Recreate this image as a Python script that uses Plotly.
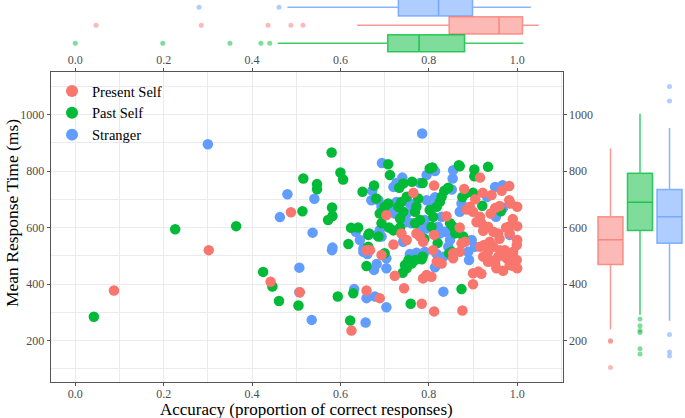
import plotly.graph_objects as go

# ---------------- data (accuracy, mean RT) ----------------
present_self = [
    (0.0875, 377), (0.302, 520), (0.442, 408), (0.508, 371), (0.488, 654),
    (0.765, 723), (0.812, 749), (0.880, 737), (0.916, 777), (0.965, 730),
    (0.982, 747), (0.922, 723), (0.942, 715), (0.982, 697), (0.985, 685),
    (1.0, 674), (0.960, 676), (0.950, 669), (0.893, 674), (0.886, 664),
    (0.900, 656), (0.916, 638), (0.908, 620), (0.919, 615), (0.923, 589),
    (0.934, 603), (0.946, 585), (0.957, 579), (0.983, 605), (1.0, 605),
    (1.0, 556), (0.983, 579), (0.938, 550), (0.925, 538), (0.916, 532),
    (0.946, 532), (0.934, 514), (0.961, 520), (0.972, 520), (0.999, 538),
    (0.991, 514), (0.874, 544), (0.882, 550), (0.870, 514), (0.855, 509),
    (0.812, 574), (0.704, 644), (0.738, 579), (0.750, 556), (0.772, 579),
    (0.780, 568), (0.787, 550), (0.659, 520), (0.667, 520), (0.693, 503),
    (0.855, 491), (0.923, 497), (0.938, 485), (0.957, 497), (0.976, 491),
    (0.991, 497), (0.999, 485), (0.983, 467), (0.953, 456), (0.968, 447),
    (1.0, 456), (0.912, 444), (0.919, 436), (0.900, 438), (0.934, 479),
    (0.950, 473), (0.991, 464), (0.818, 479), (0.829, 473), (0.787, 420),
    (0.795, 432), (0.806, 426), (0.900, 399), (0.723, 429), (0.744, 385),
    (0.659, 377), (0.689, 350), (0.784, 330), (0.812, 303), (0.876, 306),
    (0.625, 235), (0.960, 560), (0.975, 600), (0.990, 630), (0.940, 650),
    (0.905, 700), (0.870, 600), (0.840, 640), (0.720, 540), (0.810, 520),
]
past_self = [
    (0.042, 284), (0.226, 594), (0.364, 605), (0.425, 443), (0.446, 391),
    (0.461, 340), (0.505, 324), (0.580, 866), (0.708, 824), (0.600, 795),
    (0.606, 770), (0.516, 774), (0.547, 754), (0.547, 736), (0.514, 658),
    (0.581, 671), (0.582, 641), (0.572, 627), (0.624, 599), (0.618, 542),
    (0.650, 727), (0.676, 749), (0.681, 703), (0.712, 786), (0.742, 756),
    (0.733, 741), (0.762, 762), (0.786, 758), (0.802, 809), (0.808, 813),
    (0.835, 730), (0.844, 741), (0.870, 817), (0.884, 721), (0.876, 708),
    (0.900, 723), (0.903, 806), (0.903, 782), (0.934, 815), (0.921, 677),
    (0.963, 658), (0.878, 568), (0.848, 615), (0.855, 603), (0.802, 662),
    (0.810, 638), (0.806, 603), (0.825, 691), (0.818, 674), (0.829, 709),
    (0.776, 703), (0.772, 674), (0.769, 656), (0.750, 709), (0.738, 691),
    (0.731, 674), (0.742, 656), (0.735, 632), (0.708, 685), (0.700, 674),
    (0.697, 656), (0.689, 650), (0.693, 615), (0.769, 615), (0.780, 627),
    (0.663, 574), (0.665, 579), (0.686, 568), (0.663, 532), (0.700, 509),
    (0.846, 509), (0.852, 514), (0.741, 440), (0.750, 456), (0.761, 473),
    (0.769, 485), (0.754, 485), (0.746, 467), (0.784, 488), (0.786, 497),
    (0.659, 464), (0.874, 382), (0.629, 367), (0.594, 356), (0.759, 330),
    (0.622, 271), (0.868, 821), (0.710, 600), (0.720, 590), (0.735, 600),
    (0.790, 560), (0.820, 545), (0.860, 580), (0.640, 600),
]
stranger = [
    (0.300, 895), (0.507, 458), (0.507, 371), (0.480, 718), (0.463, 637),
    (0.785, 933), (0.694, 829), (0.541, 702), (0.537, 582), (0.582, 529),
    (0.672, 730), (0.670, 697), (0.720, 744), (0.727, 758), (0.740, 777),
    (0.780, 758), (0.795, 786), (0.814, 800), (0.852, 735), (0.855, 803),
    (0.854, 774), (0.950, 744), (0.967, 750), (0.932, 709), (0.968, 670),
    (0.874, 685), (0.870, 656), (0.952, 638), (0.983, 574), (0.897, 556),
    (0.904, 532), (0.889, 514), (0.852, 597), (0.855, 579), (0.848, 556),
    (0.836, 585), (0.844, 532), (0.825, 579), (0.821, 603), (0.829, 638),
    (0.791, 627), (0.795, 597), (0.780, 579), (0.780, 609), (0.795, 697),
    (0.806, 674), (0.814, 707), (0.757, 685), (0.765, 662), (0.750, 650),
    (0.727, 691), (0.716, 674), (0.723, 650), (0.686, 697), (0.693, 674),
    (0.689, 591), (0.682, 574), (0.693, 568), (0.742, 550), (0.761, 615),
    (0.750, 620), (0.635, 585), (0.644, 556), (0.652, 526), (0.581, 520),
    (0.652, 514), (0.661, 506), (0.757, 506), (0.772, 511), (0.791, 514),
    (0.784, 503), (0.833, 497), (0.818, 506), (0.891, 485), (0.814, 459),
    (0.833, 373), (0.676, 450), (0.682, 471), (0.704, 456), (0.704, 491),
    (0.631, 382), (0.659, 350), (0.678, 356), (0.704, 318), (0.535, 273),
    (0.657, 264),
]

groups = ["Present Self", "Past Self", "Stranger"]
colors = {"Present Self": "248,118,109", "Past Self": "0,186,56", "Stranger": "97,156,255"}
points = {"Present Self": present_self, "Past Self": past_self, "Stranger": stranger}

# marginal box stats: accuracy (top)
acc_box = {
    "Stranger":     dict(lo=0.480, q1=0.731, med=0.822, q3=0.899, hi=1.031, out=[0.280, 0.461]),
    "Present Self": dict(lo=0.638, q1=0.846, med=0.959, q3=1.012, hi=1.049, out=[0.047, 0.285, 0.436, 0.488, 0.515]),
    "Past Self":    dict(lo=0.458, q1=0.707, med=0.778, q3=0.881, hi=1.014, out=[0.0, 0.198, 0.350, 0.420, 0.440]),
}
# marginal box stats: response time (right)
rt_box = {
    "Present Self": dict(lo=240, q1=469, med=557, q3=638, hi=880, out=[200, 196, 104]),
    "Past Self":    dict(lo=291, q1=590, med=690, q3=792, hi=1003, out=[276, 252, 235, 228, 171, 152]),
    "Stranger":     dict(lo=270, q1=544, med=638, q3=735, hi=953, out=[1100, 1048, 221, 159, 145]),
}
top_pos = {"Stranger": 3, "Present Self": 2, "Past Self": 1}
right_pos = {"Present Self": 1, "Past Self": 2, "Stranger": 3}

x_ticks = [0.0, 0.2, 0.4, 0.6, 0.8, 1.0]
y_ticks = [200, 400, 600, 800, 1000]

# ---------------- figure ----------------
W, H = 685, 418
XR = [-0.0557, 1.103]
YR = [54, 1150]
FONT = "Liberation Serif, Times New Roman, serif"

fig = go.Figure()

# scatter: draw order blue, green, red
for g, rank in [("Stranger", 3), ("Past Self", 2), ("Present Self", 1)]:
    xs = [p[0] for p in points[g]]
    ys = [p[1] for p in points[g]]
    fig.add_trace(go.Scatter(
        x=xs, y=ys, mode="markers", name=g, legendrank=rank,
        marker=dict(size=10.5, color=f"rgb({colors[g]})", line=dict(width=0)),
        xaxis="x", yaxis="y"))

# invisible trace for secondary (top / right) axes
fig.add_trace(go.Scatter(x=[0.5], y=[500], mode="markers", marker=dict(opacity=0),
                         showlegend=False, hoverinfo="skip", xaxis="x2", yaxis="y2"))

# top marginal boxplots
for g in ["Stranger", "Present Self", "Past Self"]:
    s = acc_box[g]
    c = colors[g]
    fig.add_trace(go.Box(
        y=[top_pos[g]], q1=[s["q1"]], median=[s["med"]], q3=[s["q3"]],
        lowerfence=[s["lo"]], upperfence=[s["hi"]], orientation="h",
        width=0.95, whiskerwidth=0, fillcolor=f"rgba({c},0.5)",
        line=dict(color=f"rgba({c},0.75)", width=1.5),
        showlegend=False, hoverinfo="skip", xaxis="x3", yaxis="y3"))
    fig.add_trace(go.Scatter(
        x=s["out"], y=[top_pos[g]] * len(s["out"]), mode="markers",
        marker=dict(size=5, color=f"rgba({c},0.5)"),
        showlegend=False, hoverinfo="skip", xaxis="x3", yaxis="y3"))

# right marginal boxplots
for g in ["Present Self", "Past Self", "Stranger"]:
    s = rt_box[g]
    c = colors[g]
    fig.add_trace(go.Box(
        x=[right_pos[g]], q1=[s["q1"]], median=[s["med"]], q3=[s["q3"]],
        lowerfence=[s["lo"]], upperfence=[s["hi"]], orientation="v",
        width=0.85, whiskerwidth=0, fillcolor=f"rgba({c},0.5)",
        line=dict(color=f"rgba({c},0.75)", width=1.5),
        showlegend=False, hoverinfo="skip", xaxis="x4", yaxis="y4"))
    fig.add_trace(go.Scatter(
        x=[right_pos[g]] * len(s["out"]), y=s["out"], mode="markers",
        marker=dict(size=5, color=f"rgba({c},0.5)"),
        showlegend=False, hoverinfo="skip", xaxis="x4", yaxis="y4"))

xdom = [50.7 / W, 562.7 / W]
ydom = [(H - 381.7) / H, (H - 72.3) / H]
tickfont = dict(family=FONT, size=12, color="#4d4d4d")
grid = "#ebebeb"

hidden = dict(showgrid=False, zeroline=False, showticklabels=False, showline=False,
              ticks="", automargin=False)

fig.update_layout(
    template="none",
    width=W, height=H, margin=dict(l=0, r=0, t=0, b=0, pad=0, autoexpand=False),
    paper_bgcolor="white", plot_bgcolor="white",
    font=dict(family=FONT),
    showlegend=True,
    legend=dict(x=52 / W, y=(H - 75) / H, xanchor="left", yanchor="top",
                bgcolor="rgba(0,0,0,0)", font=dict(family=FONT, size=14.5, color="black"),
                traceorder="normal", itemsizing="constant", tracegroupgap=0),
    xaxis=dict(domain=xdom, range=XR, anchor="y", tickvals=x_ticks, tickformat=".1f",
               showgrid=True, gridcolor=grid, gridwidth=1, zeroline=False, automargin=False,
               minor=dict(dtick=0.1, tick0=0, showgrid=True, gridcolor=grid, gridwidth=0.8),
               showline=True, mirror=True, linecolor="#555555", linewidth=1.2,
               ticks="outside", ticklen=3, tickcolor="#555555", tickfont=tickfont,
               ticklabelstandoff=-2),
    yaxis=dict(domain=ydom, range=YR, anchor="x", tickvals=y_ticks,
               showgrid=True, gridcolor=grid, gridwidth=1, zeroline=False, automargin=False,
               minor=dict(dtick=200, tick0=100, showgrid=True, gridcolor=grid, gridwidth=0.8),
               showline=True, mirror=True, linecolor="#555555", linewidth=1.2,
               ticks="outside", ticklen=3, tickcolor="#555555", tickfont=tickfont),
    xaxis2=dict(overlaying="x", side="top", anchor="y", range=XR, tickvals=x_ticks,
                tickformat=".1f", showgrid=False, zeroline=False, showline=False, automargin=False,
                ticks="outside", ticklen=3, tickcolor="#555555", tickfont=tickfont),
    yaxis2=dict(overlaying="y", side="right", anchor="x", range=YR, tickvals=y_ticks,
                showgrid=False, zeroline=False, showline=False, automargin=False,
                ticks="outside", ticklen=3, tickcolor="#555555", tickfont=tickfont),
    xaxis3=dict(domain=xdom, range=XR, anchor="y3", **hidden),
    yaxis3=dict(domain=[(H - 55) / H, 1.0], range=[0.35, 3.41], anchor="x3", **hidden),
    xaxis4=dict(domain=[595 / W, 1.0], range=[0.475, 3.525], anchor="y4", **hidden),
    yaxis4=dict(domain=ydom, range=YR, anchor="x4", **hidden),
    annotations=[
        dict(text="Accuracy (proportion of correct responses)", x=306.7 / W, y=(H - 409) / H,
             xref="paper", yref="paper", showarrow=False, xanchor="center", yanchor="middle",
             font=dict(family=FONT, size=17, color="black")),
        dict(text="Mean Response Time (ms)", x=12 / W, y=(H - 213) / H, textangle=-90,
             xref="paper", yref="paper", showarrow=False, xanchor="center", yanchor="middle",
             font=dict(family=FONT, size=17.5, color="black")),
    ],
)

fig.write_html("out.html", config={"displayModeBar": False},
               post_script="document.body.style.margin='0';document.body.style.padding='0';")
